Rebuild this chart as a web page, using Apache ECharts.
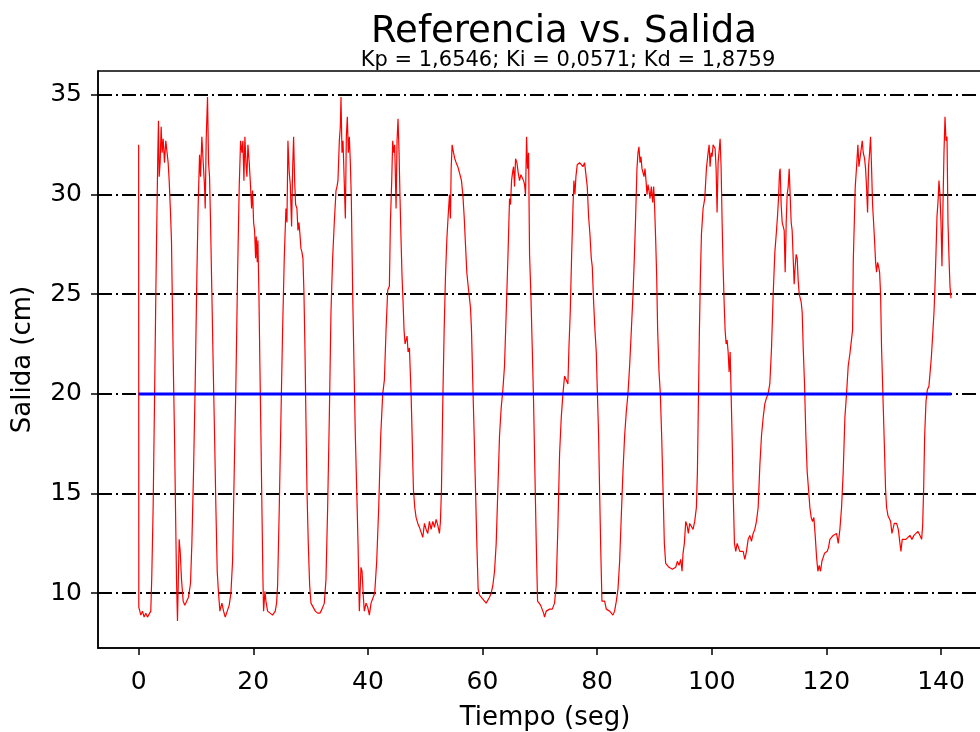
<!DOCTYPE html>
<html>
<head>
<meta charset="utf-8">
<script src="https://cdn.jsdelivr.net/npm/echarts@6/dist/echarts.min.js"></script>
<style>
html,body{margin:0;padding:0;background:#fff;}
#chart{width:980px;height:732px;}
</style>
</head>
<body>
<div id="chart"></div>
<script>
// ---- data ----
var titleText = 'Referencia vs. Salida';
var subtitleText = 'Kp = 1,6546; Ki = 0,0571; Kd = 1,8759';
var xName = 'Tiempo (seg)';
var yName = 'Salida (cm)';
var xTicks = [0, 20, 40, 60, 80, 100, 120, 140];
var yTicks = [10, 15, 20, 25, 30, 35];

// Reference (setpoint) [t, value]
var referencia = [[0, 20], [141.8, 20]];

var salida1 = [[0,32.5],[0.03,9.3],[0.38,8.9],[0.67,9.1],[0.96,8.8],[1.25,9.0],[1.54,8.8],[1.83,8.9],[2.12,9.1],[2.30,10.9],[2.53,14.3],[2.77,19.6],[3.0,25.0],[3.17,28.6],[3.35,32.1],[3.46,33.7],[3.58,30.9],[3.75,31.6],[3.93,33.4],[4.10,32.1],[4.28,32.8],[4.51,31.6],[4.74,32.7],[4.98,32.7],[5.15,31.6],[5.33,30.7],[5.56,29.1],[5.73,27.7],[5.91,24.1],[6.08,20.9],[6.26,17.9],[6.43,14.3],[6.61,10.7],[6.78,8.6],[7.07,12.7],[7.25,12.1],[7.48,10.7],[7.77,9.6],[8.06,9.4],[8.35,9.5],[8.70,9.8],[9.05,10.5],[9.29,12.5],[9.58,16.1],[9.87,20.5],[10.16,25.9],[10.39,29.5],[10.63,32.0],[10.80,30.9],[11.03,32.9],[11.27,31.6],[11.50,30.4],[11.62,29.3],[11.79,32.8],[12.02,34.9],[12.20,31.6],[12.37,30.9],[12.55,28.6],[12.78,25.0],[13.01,21.4],[13.25,17.9],[13.48,14.3],[13.71,11.1],[13.94,10.0],[14.18,9.1],[14.53,9.5],[14.82,9.1],[15.11,8.8],[15.46,9.1],[15.81,9.4],[16.10,10.0],[16.39,11.6],[16.68,16.1],[16.97,20.5],[17.26,25.9],[17.55,30.4],[17.79,32.7],[18.02,32.1],[18.19,32.7],[18.37,30.7],[18.54,32.9],[18.72,31.6],[18.89,30.9],[19.07,32.5],[19.30,31.6],[19.53,30.4],[19.71,29.3],[19.88,30.2],[20.06,28.6],[20.23,28.2],[20.41,26.8],[20.52,27.9],[20.70,26.6],[20.81,27.7],[20.99,25.0],[21.16,21.4],[21.34,17.9],[21.51,14.3],[21.69,10.7],[21.80,9.1],[22.04,10.1],[22.21,9.6],[22.50,9.1],[22.79,9.0]];
var salida2 = [[23.37,8.9],[23.84,9.1],[24.07,9.5],[24.25,10.4],[24.54,14.3],[24.83,18.8],[25.12,23.2],[25.41,26.8],[25.70,29.3],[25.88,28.6],[26.05,32.7],[26.28,31.1],[26.46,30.5],[26.69,28.4],[26.87,31.3],[27.04,32.9],[27.22,30.7],[27.39,29.5],[27.62,29.3],[27.80,28.2],[27.97,28.6],[28.15,28.0],[28.32,27.3],[28.50,27.1],[28.67,26.8],[28.85,25.0],[29.02,22.3],[29.19,18.8],[29.37,15.2],[29.60,12.5],[29.84,10.4],[30.07,9.5],[30.36,9.4],[30.83,9.1],[31.23,9.0],[31.64,9.0],[31.99,9.2],[32.40,9.5],[32.69,10.7],[32.98,14.3],[33.27,18.8],[33.56,24.1],[33.85,26.8],[34.14,28.6],[34.44,30.2],[34.61,30.4],[34.78,30.7],[35.02,32.7],[35.19,33.4],[35.31,34.9],[35.48,32.1],[35.66,32.7],[35.89,30.5],[36.07,28.8],[36.24,32.9],[36.41,33.9],[36.59,32.1],[36.76,32.9],[36.94,31.6],[37.11,29.8],[37.35,25.0],[37.58,21.4],[37.81,17.9],[38.05,15.2],[38.28,12.5],[38.51,9.1],[38.80,11.3],[38.98,11.1],[39.21,9.8],[39.38,9.1],[39.68,9.5],[39.97,9.3],[40.26,8.9],[40.55,9.5],[40.84,9.6],[41.19,10.0],[41.54,11.6],[41.89,14.3],[42.24,17.9],[42.59,20.0],[42.88,20.7],[43.17,23.2],[43.46,25.2],[43.75,25.4],[43.93,28.6],[44.16,30.7],[44.33,32.7],[44.51,32.1],[44.68,32.5],[44.92,29.3],[45.09,32.7],[45.26,33.8],[45.44,32.1],[45.61,29.8],[45.79,27.7],[45.96,25.9],[46.14,24.6],[46.31,23.2],[46.49,22.5],[46.66,22.7],[46.84,22.9],[47.01,22.1]];
var salida3 = [[47.25,22.3],[47.54,20.0],[47.72,17.9],[47.95,15.2],[48.18,14.3],[48.41,13.8],[48.71,13.5],[49.0,13.3],[49.29,13.4],[49.58,12.8],[49.87,13.5],[50.16,13.2],[50.45,13.0],[50.74,13.6],[51.03,13.2],[51.33,13.6],[51.62,13.3],[51.91,13.7],[52.20,13.4],[52.49,13.0],[52.66,13.6],[52.84,15.2],[53.07,19.6],[53.31,23.2],[53.54,25.9],[53.77,27.7],[54.0,28.9],[54.24,30.0],[54.41,28.8],[54.53,31.3],[54.70,32.5],[54.94,32.1],[55.17,31.8],[55.40,31.6],[55.69,31.4],[55.98,31.3],[56.16,30.9],[56.33,30.7],[56.57,30.0],[56.80,28.9],[57.03,27.5],[57.26,26.1],[57.50,25.4],[57.73,24.8],[57.91,24.3],[58.08,23.2],[58.31,20.5],[58.55,17.9],[58.78,15.2],[59.01,12.5],[59.24,10.2],[59.48,9.9],[59.77,9.8],[60.06,9.7],[60.35,9.6],[60.64,9.5],[60.93,9.6],[61.22,9.8],[61.51,10.0],[61.81,10.4],[62.10,11.1],[62.39,12.5],[62.68,15.2],[62.97,17.9],[63.26,19.3],[63.55,20.2],[63.84,21.4],[64.14,24.1],[64.43,26.8],[64.72,29.8],[64.89,29.5],[65.07,30.7],[65.24,31.1],[65.42,31.4],[65.59,30.4],[65.77,31.8],[66.0,31.6],[66.23,31.1],[66.46,30.7],[66.70,31.0],[66.93,30.9],[67.16,30.7],[67.34,30.5],[67.51,30.0],[67.69,32.9],[67.86,31.3],[68.04,32.1],[68.21,27.0],[68.44,25.0],[68.68,22.3],[68.91,19.6],[69.14,16.1],[69.38,12.5],[69.61,9.6],[69.84,9.5],[70.13,9.4],[70.42,9.3],[70.66,9.0],[70.83,8.8],[71.12,9.1],[71.41,9.1],[71.70,9.2]];
var salida4 = [[72.17,9.2],[72.57,9.5],[72.86,10.4],[73.16,13.4],[73.45,17.0],[73.74,18.8],[74.03,20.0],[74.32,20.9],[74.61,20.9],[74.90,20.5],[75.08,22.3],[75.31,24.1],[75.54,26.8],[75.78,29.3],[75.95,30.7],[76.13,30.0],[76.30,30.9],[76.53,31.5],[76.71,31.6],[76.94,31.6],[77.23,31.5],[77.52,31.4],[77.81,31.6],[78.10,31.6],[78.28,30.4],[78.51,28.9],[78.75,28.0],[78.98,26.8],[79.15,26.4],[79.39,24.6],[79.62,23.2],[79.85,22.1],[80.03,20.2],[80.26,17.9],[80.43,15.2],[80.61,12.5],[80.84,9.6],[81.02,9.5],[81.31,9.6],[81.60,9.2],[81.89,9.3],[82.18,9.1],[82.47,9.1],[82.76,8.9],[83.05,9.1],[83.35,9.6],[83.64,10.2],[83.93,11.6],[84.22,13.9],[84.51,16.1],[84.80,17.9],[85.09,19.1],[85.38,20.0],[85.67,21.4],[85.97,23.2],[86.26,25.0],[86.49,26.8],[86.72,28.9],[86.95,31.3],[87.13,32.1],[87.30,32.4],[87.48,31.6],[87.65,31.9],[87.83,31.3],[88.0,31.4],[88.18,30.9],[88.35,31.3],[88.53,30.7],[88.70,30.0],[88.88,30.5],[89.05,30.2],[89.23,29.8],[89.46,30.4],[89.69,29.6],[89.87,30.4],[90.04,29.3],[90.22,27.7],[90.39,25.9],[90.56,23.2],[90.80,21.1],[91.03,20.0],[91.26,17.9],[91.50,15.2],[91.73,12.5],[91.96,11.5],[92.25,11.4],[92.54,11.3],[92.84,11.4],[93.13,11.2],[93.42,11.2],[93.71,11.3],[94.0,11.6],[94.29,11.4],[94.58,11.7],[94.82,11.1],[94.99,12.0],[95.22,12.5],[95.46,13.6],[95.69,13.4],[95.92,13.0],[96.15,13.5]];
var salida5 = [[96.45,13.5],[96.74,13.2],[97.03,13.6],[97.32,14.3],[97.50,16.1],[97.67,19.6],[97.85,23.2],[98.02,25.9],[98.20,28.0],[98.49,29.3],[98.78,29.8],[99.07,31.3],[99.36,32.1],[99.54,32.5],[99.71,31.4],[99.89,32.1],[100.06,31.9],[100.24,32.5],[100.41,32.5],[100.59,32.3],[100.76,31.3],[100.93,29.1],[101.11,31.6],[101.28,31.6],[101.46,32.8],[101.63,31.4],[101.81,28.6],[101.98,26.4],[102.16,24.6],[102.33,23.2],[102.51,22.5],[102.68,22.7],[102.86,22.1],[103.03,21.1],[103.21,22.1],[103.38,20.0],[103.55,17.9],[103.73,15.2],[103.96,12.5],[104.19,12.1],[104.43,12.5],[104.66,12.3],[104.89,12.1],[105.18,12.2],[105.48,12.1],[105.77,11.7],[106.06,12.1],[106.35,12.7],[106.64,12.9],[106.93,12.6],[107.22,13.0],[107.51,13.2],[107.80,13.6],[108.10,14.3],[108.39,16.4],[108.68,17.9],[108.97,18.8],[109.26,19.5],[109.55,19.8],[109.84,20.0],[110.13,20.5],[110.43,22.3],[110.72,25.0],[111.01,27.1],[111.30,28.2],[111.47,28.9],[111.65,29.8],[111.82,31.1],[111.94,31.3],[112.11,29.5],[112.29,28.6],[112.46,28.6],[112.64,28.2],[112.81,26.1],[112.99,28.6],[113.16,30.0],[113.34,30.4],[113.51,31.3],[113.69,31.3],[113.86,28.6],[114.03,28.2],[114.21,26.8],[114.38,25.5],[114.56,26.4],[114.73,27.0],[114.91,26.8],[115.08,25.7],[115.26,25.0],[115.43,25.0],[115.61,24.6],[115.78,24.1],[115.96,22.3],[116.19,20.5],[116.42,17.9],[116.65,16.1],[116.89,15.2],[117.12,14.3],[117.35,13.8],[117.59,13.6],[117.82,13.8],[118.05,12.9],[118.29,11.8],[118.52,11.1],[118.75,11.4],[118.98,11.1],[119.22,11.6],[119.45,11.6],[119.68,12.0],[119.92,11.9],[120.15,12.1],[120.38,12.3],[120.61,12.7]];
var salida6 = [[121.19,12.9],[121.77,13.0],[122.07,12.5],[122.36,13.2],[122.65,14.3],[122.94,16.1],[123.23,18.8],[123.52,20.0],[123.81,21.4],[124.10,22.0],[124.39,22.1],[124.57,23.2],[124.69,26.6],[124.86,26.6],[125.04,30.4],[125.27,31.4],[125.50,32.5],[125.68,31.4],[125.85,31.4],[126.08,32.3],[126.26,32.7],[126.43,32.1],[126.67,31.8],[126.84,31.3],[127.01,30.4],[127.19,29.1],[127.36,31.4],[127.54,32.1],[127.71,32.9],[127.89,31.3],[128.06,29.5],[128.24,28.6],[128.41,27.7],[128.59,26.6],[128.76,26.1],[128.94,26.6],[129.11,26.4],[129.29,26.1],[129.46,25.0],[129.63,22.3],[129.81,20.5],[129.98,18.8],[130.16,17.0],[130.33,15.2],[130.51,14.3],[130.74,13.9],[130.97,13.8],[131.21,13.6],[131.44,13.0],[131.67,12.9],[131.85,13.5],[132.02,13.4],[132.26,13.5],[132.55,13.2],[132.84,12.5],[133.01,12.1],[133.24,12.7],[133.54,12.8],[133.88,12.7],[134.23,12.8],[134.58,12.9],[134.93,12.7],[135.28,12.9],[135.63,13.0],[135.98,13.1],[136.33,12.9],[136.62,12.7],[136.80,13.4],[136.97,15.2],[137.15,17.9],[137.38,19.6],[137.61,20.2],[137.90,20.4],[138.08,20.5],[138.31,21.8],[138.54,22.9],[138.78,24.1],[138.95,25.4],[139.13,27.1],[139.30,28.9],[139.47,29.6],[139.65,30.7],[139.82,30.0],[140.00,28.6],[140.17,26.4],[140.35,29.5],[140.52,32.1],[140.70,33.9],[140.87,32.7],[141.05,32.9],[141.22,28.6],[141.40,26.8],[141.57,25.4],[141.75,24.8]];

var salida = salida1.concat(salida2, salida3, salida4, salida5, salida6);

// ---- chart ----
var FONT = 'DejaVu Sans';
var chart = echarts.init(document.getElementById('chart'), null, {renderer: 'canvas'});
chart.setOption({
  animation: false,
  backgroundColor: '#ffffff',
  title: [
    {text: titleText, left: 564, textAlign: 'center', top: 14, padding: 0,
     textStyle: {fontFamily: FONT, fontSize: 37, fontWeight: 'normal', color: '#000'}},
    {text: subtitleText, left: 568, textAlign: 'center', top: 50, padding: 0,
     textStyle: {fontFamily: FONT, fontSize: 21, fontWeight: 'normal', color: '#000'}}
  ],
  grid: {left: 98, top: 71, width: 894, height: 577, show: true,
         outerBoundsMode: 'none', containLabel: false,
         borderColor: '#000', borderWidth: 1.5, backgroundColor: 'transparent'},
  xAxis: {
    type: 'value', min: -7.09, max: 148.9,
    name: xName, nameLocation: 'middle', nameGap: 57,
    nameTextStyle: {fontFamily: FONT, fontSize: 26, color: '#000'},
    axisLine: {show: true, onZero: false, lineStyle: {color: '#000', width: 1.5}},
    axisTick: {show: true, length: 7, customValues: xTicks, lineStyle: {color: '#000', width: 1.5}},
    axisLabel: {customValues: xTicks, fontFamily: FONT, fontSize: 25, color: '#000', margin: 22},
    splitLine: {show: false}
  },
  yAxis: {
    type: 'value', min: 7.25, max: 36.2,
    name: yName, nameLocation: 'middle', nameGap: 62,
    nameTextStyle: {fontFamily: FONT, fontSize: 26, color: '#000'},
    axisLine: {show: true, onZero: false, lineStyle: {color: '#000', width: 1.5}},
    axisTick: {show: true, length: 7, customValues: yTicks, lineStyle: {color: '#000', width: 1.5}},
    axisLabel: {customValues: yTicks, fontFamily: FONT, fontSize: 25, color: '#000', margin: 16},
    splitLine: {show: true, lineStyle: {color: '#000', width: 2, type: [14, 4, 2, 4]}}
  },
  series: [
    {type: 'line', name: 'Salida', data: salida, showSymbol: false, symbol: 'none',
     lineStyle: {color: '#ff0000', width: 1.2}, z: 3},
    {type: 'line', name: 'Referencia', data: referencia, showSymbol: false, symbol: 'none',
     lineStyle: {color: '#0000ff', width: 3}, z: 4}
  ]
});
</script>
</body>
</html>
